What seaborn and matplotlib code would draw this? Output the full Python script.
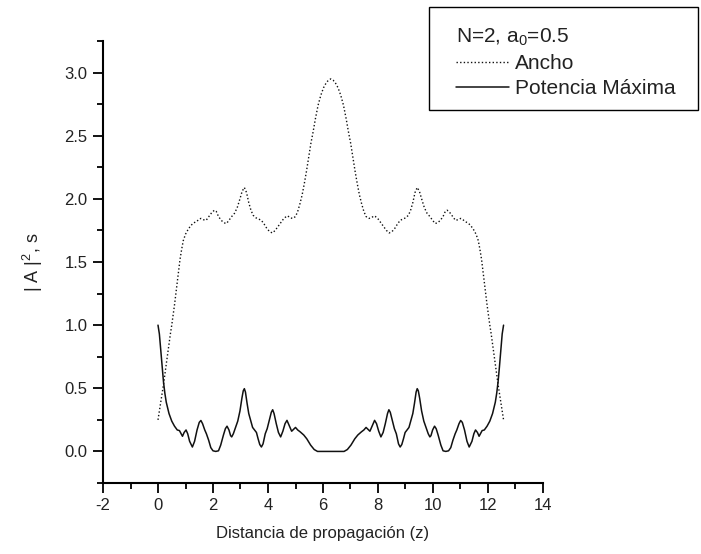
import matplotlib
matplotlib.use("Agg")
import matplotlib.pyplot as plt
from matplotlib.patches import Rectangle
from matplotlib.ticker import MultipleLocator, FormatStrFormatter
import seaborn as sns

# Propagation distance for the pulse width curve
z_ancho = [
    0.00, 0.05, 0.10, 0.15, 0.20, 0.25, 0.30, 0.35, 0.40, 0.45, 0.50, 0.55,
    0.60, 0.65, 0.70, 0.75, 0.80, 0.86, 0.92, 1.00, 1.10, 1.20, 1.30, 1.40,
    1.50, 1.56, 1.65, 1.75, 1.85, 1.95, 2.05, 2.12, 2.20, 2.30, 2.40, 2.49,
    2.58, 2.68, 2.78, 2.88, 2.98, 3.06, 3.14, 3.22, 3.30, 3.38, 3.46, 3.56,
    3.66, 3.76, 3.86, 3.96, 4.06, 4.16, 4.26, 4.36, 4.46, 4.56, 4.66, 4.72,
    4.80, 4.90, 5.00, 5.08, 5.16, 5.24, 5.32, 5.40, 5.48, 5.56, 5.64, 5.72,
    5.82, 5.92, 6.02, 6.12, 6.20, 6.283,
    6.366, 6.446, 6.546, 6.646, 6.746, 6.846, 6.926, 7.006, 7.086, 7.166,
    7.246, 7.326, 7.406, 7.486, 7.566, 7.666, 7.766, 7.846, 7.906, 8.006,
    8.106, 8.206, 8.306, 8.406, 8.506, 8.606, 8.706, 8.806, 8.906, 9.006,
    9.106, 9.186, 9.266, 9.346, 9.426, 9.506, 9.586, 9.686, 9.786, 9.886,
    9.986, 10.076, 10.166, 10.266, 10.366, 10.446, 10.516, 10.616, 10.716,
    10.816, 10.916, 11.006, 11.066, 11.166, 11.266, 11.366, 11.466, 11.566,
    11.646, 11.706, 11.766, 11.816, 11.866, 11.916, 11.966, 12.016, 12.066,
    12.116, 12.166, 12.216, 12.266, 12.316, 12.366, 12.416, 12.466, 12.516,
    12.566,
]
# Pulse width (Ancho)
ancho = [
    0.25, 0.32, 0.39, 0.46, 0.53, 0.61, 0.69, 0.77, 0.85, 0.93, 1.00, 1.08,
    1.16, 1.25, 1.34, 1.43, 1.52, 1.60, 1.67, 1.72, 1.76, 1.79, 1.81, 1.82,
    1.84, 1.845, 1.835, 1.83, 1.86, 1.89, 1.91, 1.90, 1.86, 1.83, 1.81, 1.805,
    1.83, 1.86, 1.885, 1.93, 2.00, 2.06, 2.09, 2.05, 1.97, 1.91, 1.87, 1.85,
    1.84, 1.83, 1.80, 1.765, 1.74, 1.73, 1.75, 1.78, 1.81, 1.84, 1.86, 1.865,
    1.85, 1.845, 1.86, 1.90, 1.96, 2.03, 2.12, 2.22, 2.33, 2.44, 2.53, 2.63,
    2.74, 2.82, 2.88, 2.92, 2.94, 2.95,
    2.94, 2.92, 2.88, 2.82, 2.74, 2.63, 2.53, 2.44, 2.33, 2.22,
    2.12, 2.03, 1.96, 1.90, 1.86, 1.845, 1.85, 1.865, 1.86, 1.84,
    1.81, 1.78, 1.75, 1.73, 1.74, 1.765, 1.80, 1.83, 1.84, 1.85,
    1.87, 1.91, 1.97, 2.05, 2.09, 2.06, 2.00, 1.93, 1.885, 1.86,
    1.83, 1.805, 1.81, 1.83, 1.86, 1.90, 1.91, 1.89, 1.86,
    1.83, 1.835, 1.845, 1.84, 1.82, 1.81, 1.79, 1.76, 1.72,
    1.67, 1.60, 1.52, 1.43, 1.34, 1.25, 1.16, 1.08, 1.00,
    0.93, 0.85, 0.77, 0.69, 0.61, 0.53, 0.46, 0.39, 0.32,
    0.25,
]

# Propagation distance for the peak power curve
z_potencia = [
    0.00, 0.05, 0.10, 0.15, 0.20, 0.25, 0.30, 0.40, 0.50, 0.60, 0.70, 0.78,
    0.84, 0.89, 0.95, 1.02, 1.08, 1.15, 1.25, 1.33, 1.42, 1.50, 1.56, 1.62,
    1.70, 1.76, 1.84, 1.92, 2.00, 2.10, 2.20, 2.28, 2.38, 2.45, 2.51, 2.58,
    2.64, 2.68, 2.74, 2.82, 2.90, 2.98, 3.05, 3.10, 3.14, 3.18, 3.24, 3.30,
    3.37, 3.44, 3.51, 3.58, 3.64, 3.70, 3.76, 3.82, 3.90, 3.97, 4.05, 4.12,
    4.17, 4.22, 4.30, 4.38, 4.46, 4.54, 4.62, 4.69, 4.76, 4.86, 4.93, 5.00,
    5.08, 5.17, 5.30, 5.41, 5.55, 5.68, 5.80, 6.283,
    6.766, 6.886, 7.016, 7.156, 7.266, 7.396, 7.486, 7.566, 7.636, 7.706,
    7.806, 7.876, 7.946, 8.026, 8.106, 8.186, 8.266, 8.346, 8.396, 8.446,
    8.516, 8.596, 8.666, 8.746, 8.806, 8.866, 8.926, 8.986, 9.056, 9.126,
    9.196, 9.266, 9.326, 9.386, 9.426, 9.466, 9.516, 9.586, 9.666, 9.746,
    9.826, 9.886, 9.926, 9.986, 10.056, 10.116, 10.186, 10.286, 10.366,
    10.466, 10.566, 10.646, 10.726, 10.806, 10.866, 10.946, 11.006, 11.066,
    11.146, 11.236, 11.316, 11.416, 11.486, 11.546, 11.616, 11.676, 11.726,
    11.786, 11.866, 11.966, 12.066, 12.166, 12.266, 12.316, 12.366, 12.416,
    12.466, 12.516, 12.566,
]
# Peak power |A|^2 (Potencia Maxima)
potencia = [
    1.00, 0.93, 0.80, 0.67, 0.55, 0.46, 0.39, 0.30, 0.24, 0.20, 0.17, 0.165,
    0.14, 0.12, 0.15, 0.17, 0.14, 0.08, 0.035, 0.08, 0.17, 0.23, 0.245, 0.22,
    0.17, 0.14, 0.09, 0.03, 0.005, 0.0, 0.005, 0.05, 0.13, 0.18, 0.20, 0.17,
    0.125, 0.115, 0.14, 0.19, 0.24, 0.32, 0.42, 0.48, 0.497, 0.47, 0.38, 0.30,
    0.245, 0.19, 0.17, 0.15, 0.10, 0.055, 0.035, 0.06, 0.14, 0.18, 0.25, 0.31,
    0.33, 0.30, 0.22, 0.15, 0.115, 0.16, 0.22, 0.246, 0.21, 0.16, 0.175, 0.19,
    0.17, 0.155, 0.13, 0.10, 0.05, 0.015, 0.0, 0.0,
    0.0, 0.015, 0.05, 0.10, 0.13, 0.155, 0.17, 0.19, 0.175, 0.16,
    0.21, 0.246, 0.22, 0.16, 0.115, 0.15, 0.22, 0.30, 0.33, 0.31,
    0.25, 0.18, 0.14, 0.06, 0.035, 0.055, 0.10, 0.15, 0.17, 0.19,
    0.245, 0.30, 0.38, 0.47, 0.497, 0.48, 0.42, 0.32, 0.24, 0.19,
    0.14, 0.115, 0.125, 0.17, 0.20, 0.18, 0.13, 0.05, 0.005,
    0.0, 0.005, 0.03, 0.09, 0.14, 0.17, 0.22, 0.245, 0.23,
    0.17, 0.08, 0.035, 0.08, 0.14, 0.17, 0.15, 0.12, 0.14,
    0.165, 0.17, 0.20, 0.24, 0.30, 0.39, 0.46, 0.55, 0.67,
    0.80, 0.93, 1.00,
]

x_ticks = [-2, 0, 2, 4, 6, 8, 10, 12, 14]
y_ticks = [0.0, 0.5, 1.0, 1.5, 2.0, 2.5, 3.0]

sns.set_theme(style="ticks")
plt.rcParams["font.family"] = ["Liberation Sans", "DejaVu Sans"]
plt.rcParams["mathtext.fontset"] = "custom"
plt.rcParams["mathtext.rm"] = "Liberation Sans"
plt.rcParams["mathtext.it"] = "Liberation Sans:italic"
plt.rcParams["axes.unicode_minus"] = False

W, H = 701, 554
fig = plt.figure(figsize=(W / 100, H / 100), dpi=100)
# axes box in pixels: x 103..543, y 41..483
ax = fig.add_axes([103 / W, (H - 483) / H, 440 / W, 442 / H])

ink = "#111111"
sns.lineplot(x=z_ancho, y=ancho, ax=ax, estimator=None, color=ink,
             linewidth=1.0, linestyle=(0, (1, 1.6)), label="Ancho")
sns.lineplot(x=z_potencia, y=potencia, ax=ax, estimator=None, color=ink,
             linewidth=1.1, label="Potencia Máxima")

ax.set_xlim(-2, 14)
ax.set_ylim(-0.25, 3.25)
ax.set_xticks(x_ticks)
ax.set_yticks(y_ticks)
ax.xaxis.set_minor_locator(MultipleLocator(1))
ax.yaxis.set_minor_locator(MultipleLocator(0.25))
ax.yaxis.set_major_formatter(FormatStrFormatter("%.1f"))

for side in ("top", "right"):
    ax.spines[side].set_visible(False)
for side in ("left", "bottom"):
    ax.spines[side].set_linewidth(1.5)
    ax.spines[side].set_color("black")

ax.tick_params(which="major", direction="out", length=7, width=1.3,
               color="black", labelsize=12, labelcolor="#222222", pad=4)
ax.tick_params(which="minor", direction="out", length=4, width=1.3,
               color="black")

ax.set_xlabel("Distancia de propagación (z)", fontsize=12, color="#222222",
              labelpad=9)
ax.set_ylabel("| A |$^{2}$, s", fontsize=13, color="#222222", labelpad=14)

# Legend box frame (pixels x 429..698, y 7..110)
fig.patches.append(Rectangle((429 / W, (H - 110) / H), 269 / W, 103 / H,
                             transform=fig.transFigure, fill=True,
                             facecolor="white", edgecolor="black",
                             linewidth=1.0, zorder=5))

handles, labels = ax.get_legend_handles_labels()
ax.get_legend().remove()
leg = fig.legend(handles, labels, title="N=2, a$_{0}$=0.5",
                 loc="upper left", bbox_to_anchor=(456 / W, (H - 27) / H),
                 fontsize=15, title_fontsize=15, alignment="left",
                 frameon=False, handlelength=2.55, handletextpad=0.3,
                 labelspacing=0.28, borderpad=0, borderaxespad=0)
leg.set_zorder(6)
for t in leg.get_texts():
    t.set_color("#222222")
leg.get_title().set_color("#222222")

fig.savefig("out.png", dpi=100, facecolor="white")
